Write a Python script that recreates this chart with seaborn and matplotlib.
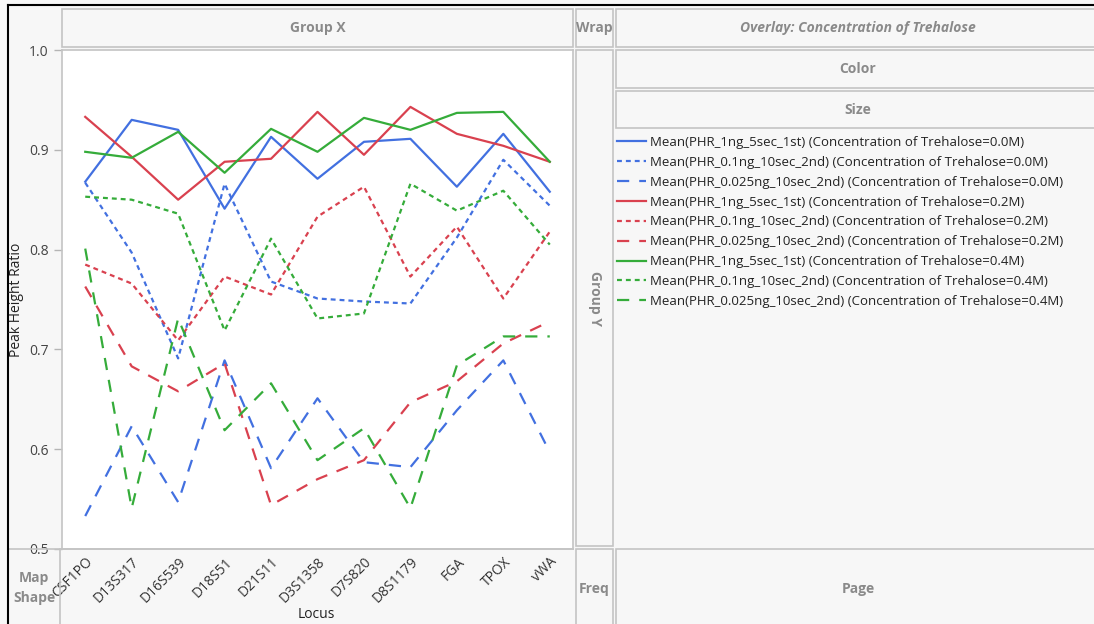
import matplotlib
matplotlib.use("Agg")
import matplotlib.pyplot as plt
from matplotlib.patches import Rectangle
from matplotlib.lines import Line2D
import seaborn as sns
import pandas as pd

loci = ["CSF1PO", "D13S317", "D16S539", "D18S51", "D21S11", "D3S1358",
        "D7S820", "D8S1179", "FGA", "TPOX", "vWA"]
series_names = ["PHR_1ng_5sec_1st", "PHR_0.1ng_10sec_2nd", "PHR_0.025ng_10sec_2nd"]
concs = ["0.0M", "0.2M", "0.4M"]

# Trehalose 0.0M
blue_1ng = [0.868, 0.930, 0.920, 0.841, 0.913, 0.871, 0.908, 0.911, 0.863, 0.916, 0.858]
blue_01ng = [0.867, 0.797, 0.691, 0.866, 0.768, 0.751, 0.748, 0.746, 0.812, 0.890, 0.844]
blue_0025ng = [0.533, 0.623, 0.547, 0.689, 0.581, 0.651, 0.587, 0.582, 0.639, 0.689, 0.597]
# Trehalose 0.2M
red_1ng = [0.933, 0.893, 0.850, 0.888, 0.891, 0.938, 0.895, 0.943, 0.916, 0.904, 0.888]
red_01ng = [0.785, 0.766, 0.709, 0.773, 0.755, 0.833, 0.863, 0.773, 0.823, 0.751, 0.818]
red_0025ng = [0.763, 0.683, 0.658, 0.686, 0.544, 0.570, 0.589, 0.647, 0.668, 0.706, 0.728]
# Trehalose 0.4M
green_1ng = [0.898, 0.892, 0.918, 0.877, 0.921, 0.898, 0.932, 0.920, 0.937, 0.938, 0.888]
green_01ng = [0.853, 0.850, 0.836, 0.719, 0.811, 0.731, 0.736, 0.866, 0.839, 0.859, 0.805]
green_0025ng = [0.801, 0.541, 0.731, 0.619, 0.666, 0.589, 0.621, 0.541, 0.684, 0.713, 0.713]

values = {
    ("0.0M", series_names[0]): blue_1ng,
    ("0.0M", series_names[1]): blue_01ng,
    ("0.0M", series_names[2]): blue_0025ng,
    ("0.2M", series_names[0]): red_1ng,
    ("0.2M", series_names[1]): red_01ng,
    ("0.2M", series_names[2]): red_0025ng,
    ("0.4M", series_names[0]): green_1ng,
    ("0.4M", series_names[1]): green_01ng,
    ("0.4M", series_names[2]): green_0025ng,
}

rows = []
for (c, s), vals in values.items():
    for loc, v in zip(loci, vals):
        rows.append({"Locus": loc, "Series": s, "Trehalose": c, "Value": v})
df = pd.DataFrame(rows)

palette = {"0.0M": "#4270e0", "0.2M": "#d9414f", "0.4M": "#35ac3a"}
dash_map = {series_names[0]: "", series_names[1]: (2.2, 1.8), series_names[2]: (5.5, 4.5)}

W, H = 1094, 624
fig = plt.figure(figsize=(W / 100, H / 100), dpi=100)
fig.patch.set_facecolor("#f7f7f7")

def frect(x0, y0, x1, y1):
    return (x0 / W, 1 - y1 / H, (x1 - x0) / W, (y1 - y0) / H)

box_edge = "#c4c4c4"
box_face = "#f7f7f7"
label_color = "#8a8a8a"

def box(x0, y0, x1, y1, text=None, italic=False, rot=0):
    r = Rectangle((x0 / W, 1 - y1 / H), (x1 - x0) / W, (y1 - y0) / H,
                  transform=fig.transFigure, facecolor=box_face,
                  edgecolor=box_edge, linewidth=1.2, zorder=0)
    fig.patches.append(r)
    if text:
        fig.text((x0 + x1) / 2 / W, 1 - (y0 + y1) / 2 / H, text,
                 ha="center", va="center", color=label_color,
                 fontsize=10, fontweight="bold", rotation=rot,
                 style="italic" if italic else "normal", family="Open Sans")

box(62, 9, 573, 47, "Group X")
box(576, 9, 613, 47, "Wrap")
box(616, 9, 1100, 47, "Overlay: Concentration of Trehalose", italic=True)
box(616, 50, 1100, 88, "Color")
box(616, 91, 1100, 128, "Size")
box(576, 50, 613, 546, "Group Y", rot=-90)
box(576, 549, 613, 630, "Freq")
box(616, 549, 1100, 630, "Page")
fig.text(34 / W, 1 - 588 / H, "Map\nShape", ha="center", va="center",
         color=label_color, fontsize=10, fontweight="bold", family="Open Sans",
         linespacing=1.5)
# separator line under the graph area
fig.add_artist(Line2D([8 / W, 573 / W], [1 - 549 / H, 1 - 549 / H],
                      transform=fig.transFigure, color=box_edge, lw=1.2))
fig.add_artist(Line2D([60 / W, 60 / W], [1 - 549 / H, 0],
                      transform=fig.transFigure, color=box_edge, lw=1.2))
# black outer frame
fig.add_artist(Line2D([8 / W, 8 / W], [0, 1 - 5 / H], transform=fig.transFigure,
                      color="black", lw=1.5))
fig.add_artist(Line2D([8 / W, 1], [1 - 5 / H, 1 - 5 / H], transform=fig.transFigure,
                      color="black", lw=1.5))

ax = fig.add_axes(frect(62, 50, 573, 549))
ax.set_facecolor("white")

sns.lineplot(data=df, x="Locus", y="Value", hue="Trehalose", style="Series",
             palette=palette, dashes=dash_map, hue_order=concs,
             style_order=series_names, sort=False, linewidth=1.6,
             ax=ax, legend=False)

ax.set_ylim(0.5, 1.0)
ax.set_xlim(-0.5, len(loci) - 0.5)
ax.set_yticks([0.5, 0.6, 0.7, 0.8, 0.9, 1.0])
ax.set_yticklabels(["0.5", "0.6", "0.7", "0.8", "0.9", "1.0"])
ax.set_xticks(range(len(loci)))
ax.set_xticklabels(loci, rotation=45, ha="right", rotation_mode="anchor")
ax.tick_params(axis="y", colors="#b5b5b5", labelcolor="#444444", labelsize=10,
               length=6, width=1)
ax.tick_params(axis="x", length=0, labelsize=10, labelcolor="#333333", pad=4)
for lab in ax.get_xticklabels() + ax.get_yticklabels():
    lab.set_family("Open Sans")
for sp in ax.spines.values():
    sp.set_color("#c4c4c4")
    sp.set_linewidth(1.2)
ax.set_xlabel("")
ax.set_ylabel("")
fig.text(17 / W, 1 - 300 / H, "Peak Height Ratio", rotation=90, ha="center",
         va="center", fontsize=10, color="#222222", family="Open Sans")
fig.text(316 / W, 1 - 614 / H, "Locus", ha="center", va="center",
         fontsize=10, color="#222222", family="Open Sans")

handles, labels = [], []
for c in concs:
    for s in series_names:
        d = dash_map[s]
        h = Line2D([0], [0], color=palette[c], lw=1.6,
                   linestyle="-" if d == "" else (0, d))
        handles.append(h)
        labels.append(f"Mean({s}) (Concentration of Trehalose={c})")
leg = fig.legend(handles, labels, loc="upper left",
                 bbox_to_anchor=(617 / W, 1 - 136 / H), frameon=False,
                 fontsize=9.5, handlelength=2.2, handletextpad=0.3,
                 labelspacing=0.52, borderaxespad=0, borderpad=0)
for t in leg.get_texts():
    t.set_family("Open Sans")
    t.set_color("#222222")

fig.savefig("out.png", dpi=100, facecolor=fig.get_facecolor())
